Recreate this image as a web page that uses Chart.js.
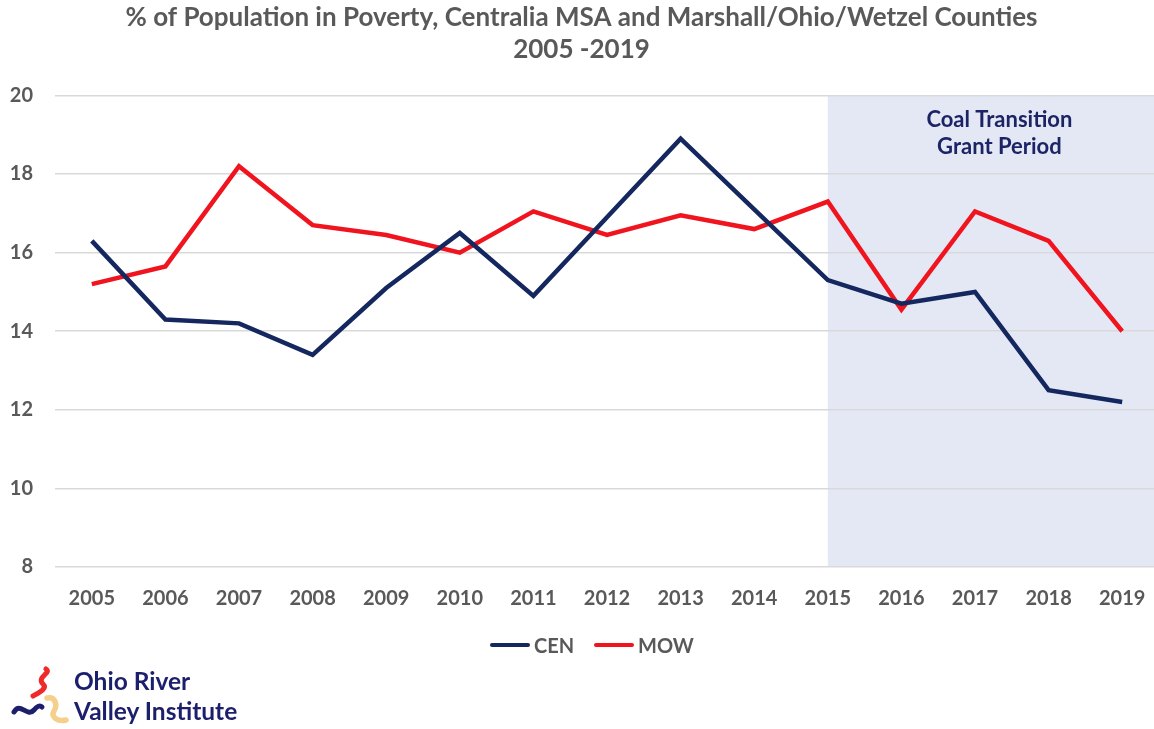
<!DOCTYPE html>
<html>
<head>
<meta charset="utf-8">
<script src="https://cdn.jsdelivr.net/npm/chart.js@4.4.1/dist/chart.umd.min.js"></script>
<style>
    body { margin: 0; background: #ffffff; }
    .wrap { position: relative; width: 1154px; height: 729px; overflow: hidden; }
    .chart-box { position: absolute; left: 0; top: 0; width: 1159px; height: 729px; }
    .legend { position: absolute; left: 490px; top: 632px; height: 26px; font-family: Lato, sans-serif; font-weight: 700; font-size: 20px; color: #595959; }
    .legend__item { position: absolute; top: 0; line-height: 26px; white-space: nowrap; }
    .legend__line { position: absolute; top: 11px; left: 0; width: 40px; height: 4px; border-radius: 2px; }
    .legend__text { position: absolute; left: 44px; top: 0; }
    .logo { position: absolute; left: 10px; top: 664px; width: 260px; height: 62px; }
    .logo svg { position: absolute; left: 0; top: 0; }
    .logo__text { position: absolute; left: 64px; top: 2px; font-family: Lato, sans-serif; font-weight: 700; font-size: 24.5px; line-height: 30px; color: #1c1f6b; white-space: nowrap; }
</style>
</head>
<body>
<div class="wrap">
    <div class="chart-box"><canvas id="povertyChart"></canvas></div>
    <div class="legend" id="legend"></div>
    <div class="logo">
        <svg width="64" height="64" viewBox="0 0 64 64">
            <path d="M36 5 C42 9, 26 13, 33 20 C38 25, 28 29, 23 32" stroke="#ee2a2a" stroke-width="5" fill="none" stroke-linecap="round"/>
            <path d="M4 48 C10 37, 17 54, 24 46 C27 42, 30 41, 32 43" stroke="#1c1f6b" stroke-width="5" fill="none" stroke-linecap="round"/>
            <path d="M37 34 C45 32, 48 41, 44 47 C40 53, 48 58, 56 56" stroke="#f5d08a" stroke-width="5.5" fill="none" stroke-linecap="round"/>
        </svg>
        <div class="logo__text">Ohio River<br>Valley Institute</div>
    </div>
</div>
<script>
const years = ['2005', '2006', '2007', '2008', '2009', '2010', '2011', '2012', '2013', '2014', '2015', '2016', '2017', '2018', '2019']
const cenValues = [16.3, 14.3, 14.2, 13.4, 15.1, 16.5, 14.9, 16.9, 18.9, 17.1, 15.3, 14.7, 15.0, 12.5, 12.2]
const mowValues = [15.2, 15.65, 18.2, 16.7, 16.45, 16.0, 17.05, 16.45, 16.95, 16.6, 17.3, 14.55, 17.05, 16.3, 14.0]
const yTicks = [8, 10, 12, 14, 16, 18, 20]
const seriesNames = ['CEN', 'MOW']
const seriesColors = ['#14275f', '#f0141e']
const grantStart = '2015'
const grantLabel = ['Coal Transition', 'Grant Period']

const textGray = '#595959'
const fontFamily = 'Lato, sans-serif'

// shaded grant period + its label
const grantPeriodPlugin = {
    id: 'grantPeriod',
    beforeDraw(chart) {
        const { ctx, chartArea, scales } = chart
        const x0 = scales.x.getPixelForValue(years.indexOf(grantStart))
        ctx.save()
        ctx.fillStyle = '#e3e8f4'
        ctx.fillRect(x0, chartArea.top, chartArea.right - x0, chartArea.bottom - chartArea.top)
        ctx.restore()
    },
    afterDraw(chart) {
        const { ctx, chartArea, scales } = chart
        const x0 = scales.x.getPixelForValue(years.indexOf(grantStart))
        const cx = (x0 + chartArea.right) / 2 + 6
        ctx.save()
        ctx.fillStyle = '#1c2466'
        ctx.font = 'bold 22px ' + fontFamily
        ctx.textAlign = 'center'
        ctx.textBaseline = 'middle'
        grantLabel.forEach((line, i) => {
            ctx.fillText(line, cx, chartArea.top + 24 + i * 27)
        })
        ctx.restore()
    }
}

const data = {
    labels: years,
    datasets: seriesNames.map((name, i) => ({
        label: name,
        data: i === 0 ? cenValues : mowValues,
        borderColor: seriesColors[i],
        backgroundColor: seriesColors[i],
        borderWidth: 4.5,
        pointRadius: 0,
        tension: 0
    }))
}

const config = {
    type: 'line',
    data: data,
    plugins: [grantPeriodPlugin],
    options: {
        responsive: true,
        maintainAspectRatio: false,
        animation: false,
        layout: {
            padding: { left: 4, right: 0, top: 0, bottom: 106 }
        },
        plugins: {
            title: {
                display: true,
                text: ['% of Population in Poverty, Centralia MSA and Marshall/Ohio/Wetzel Counties', '2005 -2019'],
                color: textGray,
                font: { family: fontFamily, size: 26, weight: 'bold', lineHeight: 1.22 },
                padding: { top: 2, bottom: 30 }
            },
            legend: { display: false },
            tooltip: { enabled: false }
        },
        scales: {
            x: {
                offset: true,
                grid: { display: false },
                border: { display: false },
                ticks: {
                    color: textGray,
                    padding: 12,
                    maxRotation: 0,
                    font: { family: fontFamily, size: 20, weight: 'bold' }
                }
            },
            y: {
                min: 8,
                max: 20,
                afterBuildTicks(axis) {
                    axis.ticks = yTicks.map(v => ({ value: v }))
                },
                afterFit(axis) {
                    axis.width = 51
                },
                grid: { color: '#d9d9d9', lineWidth: 1.5, drawTicks: false },
                border: { display: false },
                ticks: {
                    color: textGray,
                    padding: 22,
                    font: { family: fontFamily, size: 20, weight: 'bold' }
                }
            }
        }
    }
}

new Chart(document.getElementById('povertyChart'), config)

// legend below the x axis
const legendBox = document.getElementById('legend')
const legendOffsets = [0, 104]
seriesNames.forEach((name, i) => {
    const item = document.createElement('div')
    item.className = 'legend__item'
    item.style.left = legendOffsets[i] + 'px'
    item.innerHTML = '<span class="legend__line" style="background:' + seriesColors[i] + '"></span><span class="legend__text">' + name + '</span>'
    legendBox.appendChild(item)
})
</script>
</body>
</html>
